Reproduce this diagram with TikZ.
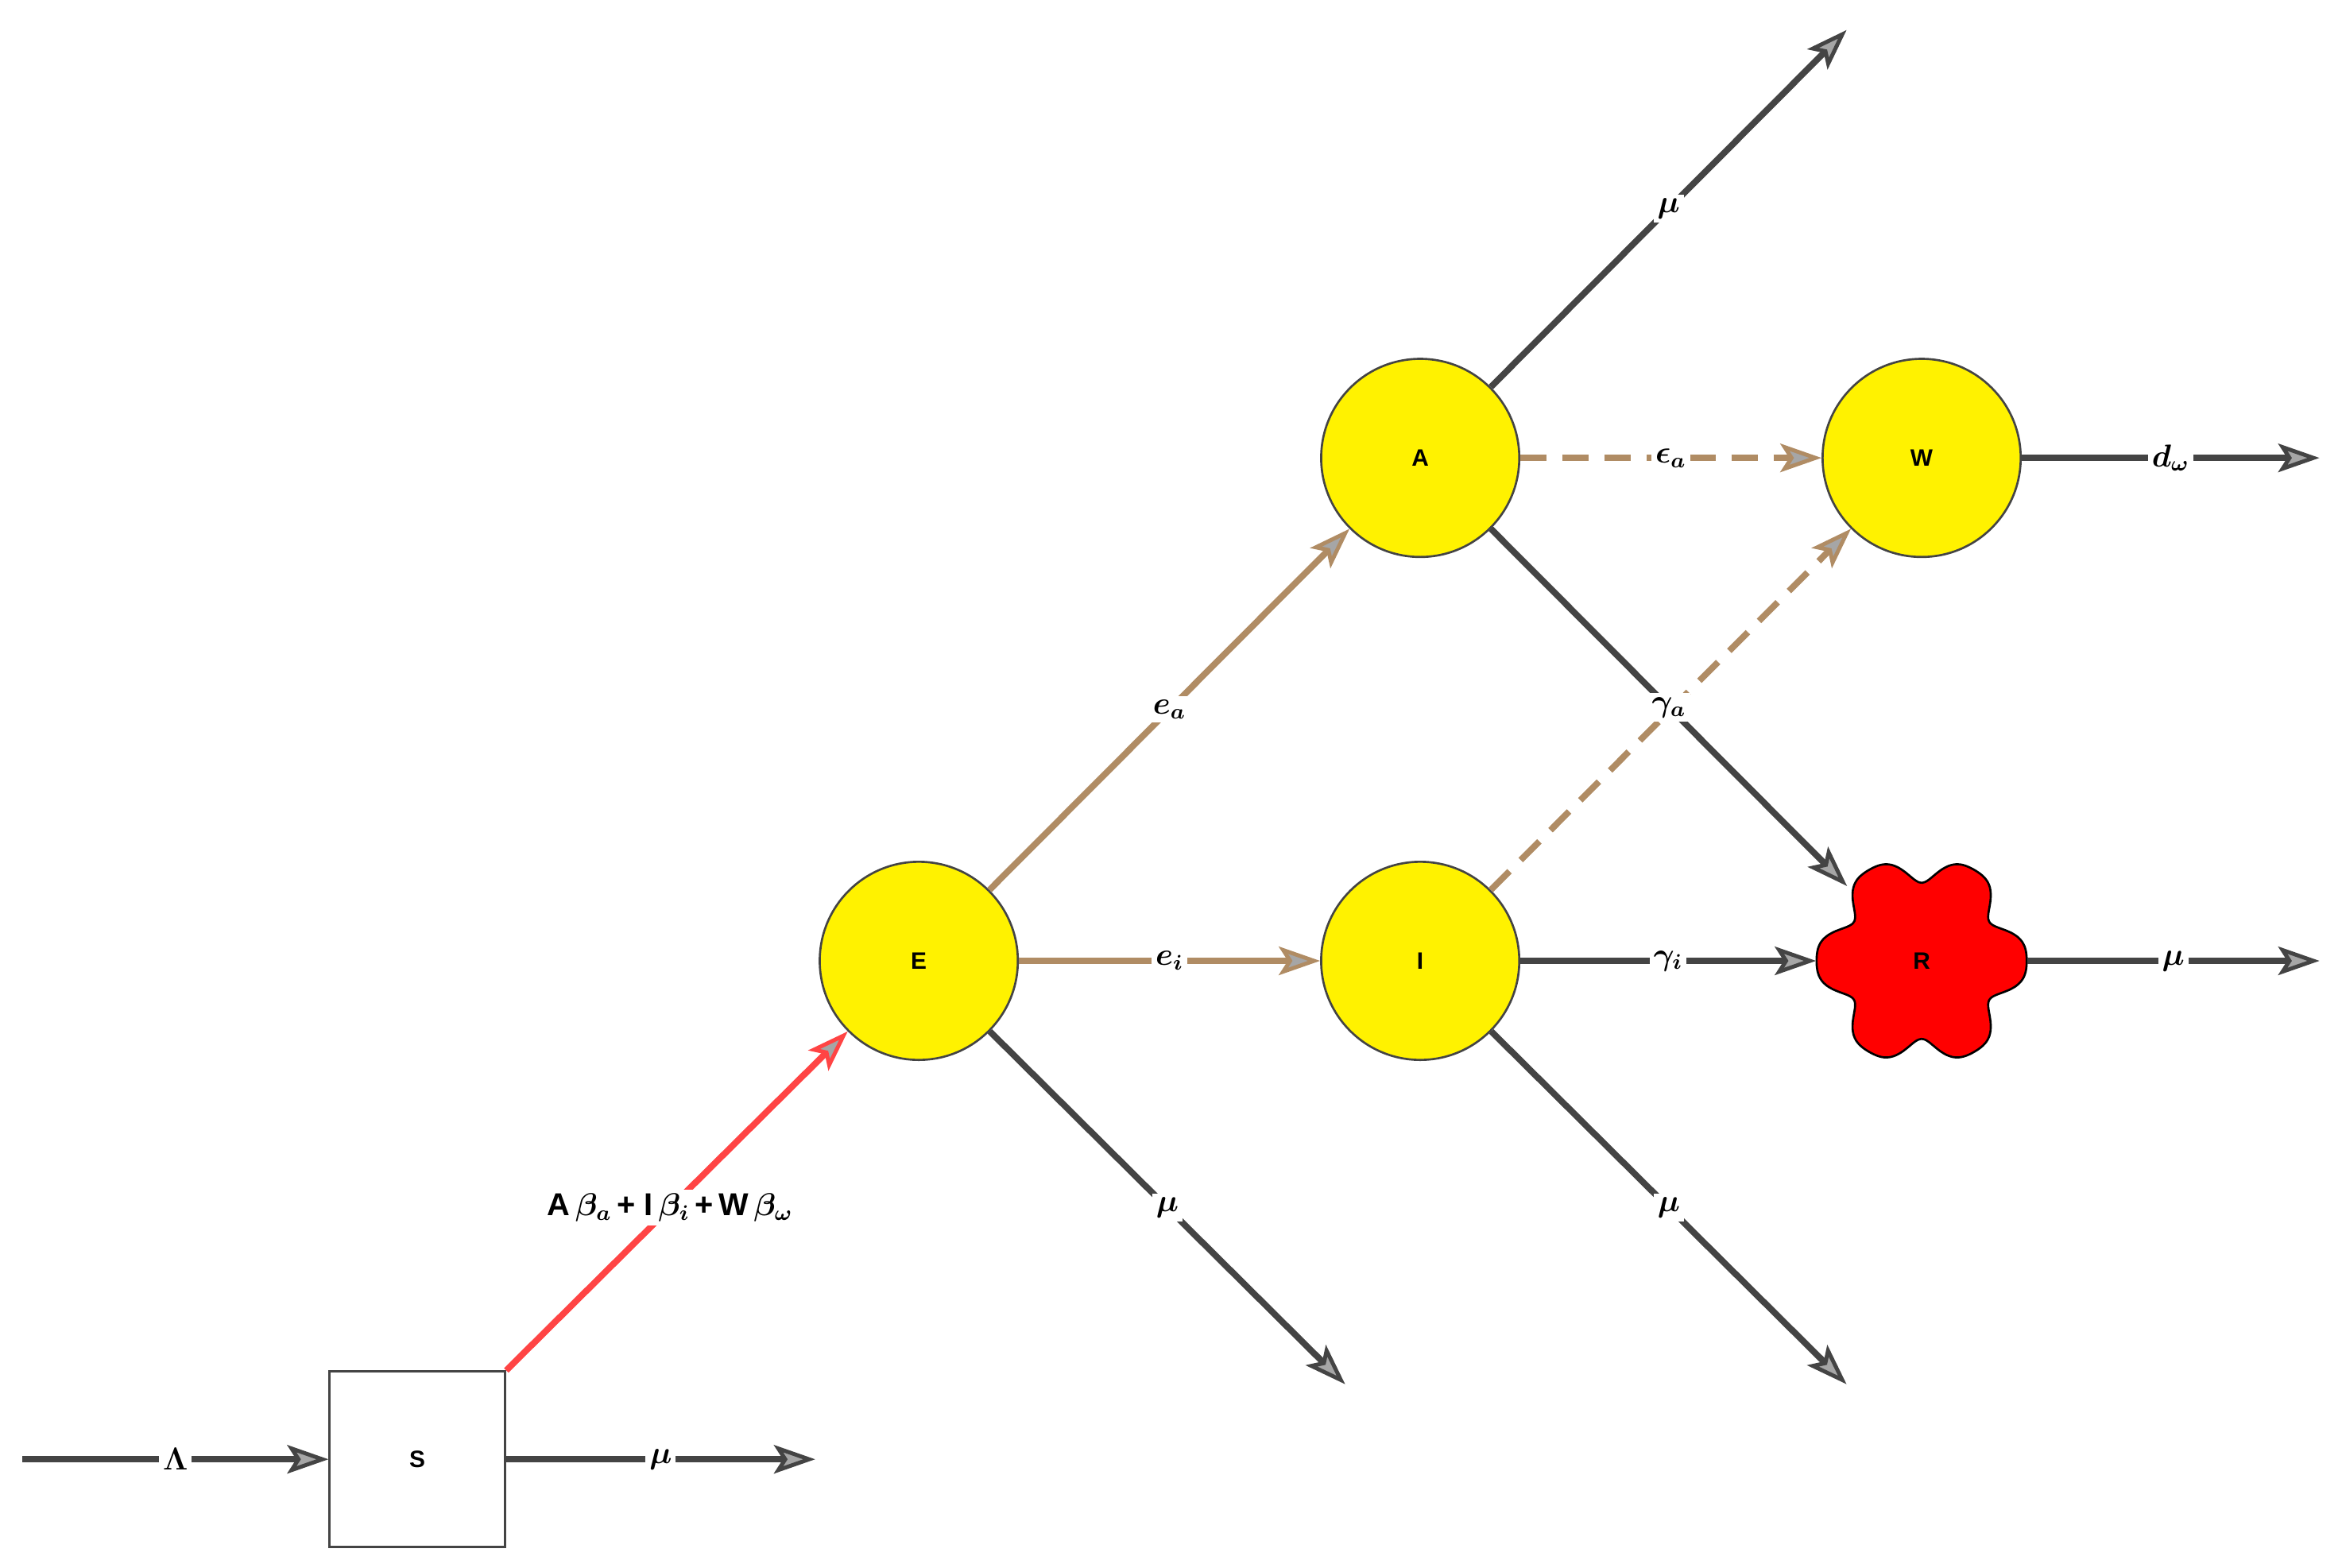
\documentclass[tikz,border=0pt]{standalone}
\usepackage{fontspec}
\setmainfont{Liberation Sans}
\usepackage{bm}
\usetikzlibrary{arrows.meta}
\definecolor{dk}{HTML}{444444}
\definecolor{br}{HTML}{B08C64}
\definecolor{rd}{HTML}{FF4444}
\begin{document}
\begin{tikzpicture}[x=0.02cm,y=-0.02cm,
  comp/.style={circle,draw=dk,line width=0.8pt,fill=yellow,minimum size=2.64cm,inner sep=0pt,font=\bfseries\small},
  flow/.style={line width=2.4pt,-{Stealth[length=0.55cm,width=0.38cm,inset=0.12cm,fill=gray!70,line width=1.5pt]}},
  dkf/.style={flow,draw=dk},
  brf/.style={flow,draw=br},
  dsh/.style={brf,dash pattern=on 10pt off 6pt},
  lab/.style={fill=white,inner sep=1.5pt,font=\bfseries\large}]
\useasboundingbox (0,0) rectangle (1560,1044);
\node[draw=dk,line width=0.8pt,fill=white,minimum size=2.34cm,font=\bfseries\small] (S) at (278,972) {S};
\node[comp] (E) at (612,640) {E};
\node[comp] (A) at (946,305) {A};
\node[comp] (I) at (946,640) {I};
\node[comp] (W) at (1280,305) {W};
\draw[line width=0.8pt,fill=red,smooth cycle,samples=120,domain=0:358]
  plot ({1280+(63+9*cos(6*\x)-2*cos(12*\x))*cos(\x)},{640+(63+9*cos(6*\x)-2*cos(12*\x))*sin(\x)});
\node[circle,minimum size=2.8cm,inner sep=0pt,font=\bfseries\small] (R) at (1280,640) {R};
\coordinate (L0) at (15,972);
\coordinate (Sout) at (543,972);
\coordinate (Eout) at (896,922);
\coordinate (Aout) at (1230,20);
\coordinate (Iout) at (1230,922);
\coordinate (Wout) at (1545,305);
\coordinate (Rout) at (1545,640);
\draw[dkf] (L0) -- node[lab]{$\bm{\Lambda}$} (S);
\draw[dkf] (S) -- node[lab]{$\bm{\mu}$} (Sout);
\draw[flow,draw=rd] (S.north east) -- node[lab,pos=0.48]{A\,$\bm{\beta_a}$\,+\ I\,$\bm{\beta_i}$\,+\,W\,$\bm{\beta_\omega}$} (E);
\draw[brf] (E) -- node[lab]{$\bm{e_a}$} (A);
\draw[brf] (E) -- node[lab]{$\bm{e_i}$} (I);
\draw[dkf] (E) -- node[lab]{$\bm{\mu}$} (Eout);
\draw[dkf] (A) -- node[lab]{$\bm{\mu}$} (Aout);
\draw[dsh] (A) -- node[lab]{$\bm{\epsilon_a}$} (W);
\draw[dsh] (I) -- (W);
\draw[dkf] (A) -- node[lab]{$\bm{\gamma_a}$} (R);
\draw[dkf] (I) -- node[lab]{$\bm{\gamma_i}$} (R);
\draw[dkf] (I) -- node[lab]{$\bm{\mu}$} (Iout);
\draw[dkf] (W) -- node[lab]{$\bm{d_\omega}$} (Wout);
\draw[dkf] (R) -- node[lab]{$\bm{\mu}$} (Rout);
\end{tikzpicture}
\end{document}
